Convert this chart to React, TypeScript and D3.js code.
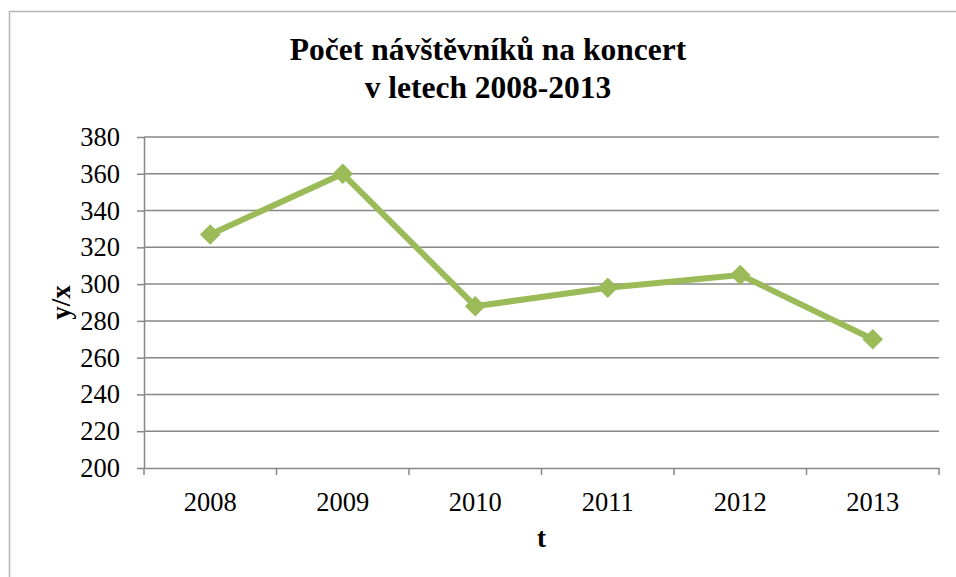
import * as d3 from "d3";
import { useEffect, useRef } from "react";

const years = ["2008", "2009", "2010", "2011", "2012", "2013"];
const visitors = [327, 360, 288, 298, 305, 270];
const yTicks = [200, 220, 240, 260, 280, 300, 320, 340, 360, 380];
const titleLines = ["Počet návštěvníků na koncert", "v letech 2008-2013"];

const App = () => {
  const svgRef = useRef<SVGSVGElement | null>(null);

  useEffect(() => {
    const svg = d3.select(svgRef.current);
    svg.selectAll("*").remove();

    const width = 956;
    const height = 577;
    const margin = { top: 137, right: 17, bottom: 109, left: 144 };
    const font = "'Liberation Serif', 'Times New Roman', serif";
    const gridColor = "#878787";
    const lineColor = "#9bbb59";

    // outer frame (runs off the right and bottom)
    svg
      .append("rect")
      .attr("x", 9.5)
      .attr("y", 11.5)
      .attr("width", width + 20)
      .attr("height", height + 20)
      .attr("fill", "white")
      .attr("stroke", "#b5b5b5")
      .attr("stroke-width", 1.5);

    // title
    svg
      .append("text")
      .attr("x", 488)
      .attr("y", 60)
      .attr("text-anchor", "middle")
      .attr("font-family", font)
      .attr("font-weight", "bold")
      .attr("font-size", 31.5)
      .selectAll("tspan")
      .data(titleLines)
      .join("tspan")
      .attr("x", 488)
      .attr("dy", (d, i) => (i === 0 ? 0 : 38))
      .text((d) => d);

    const x = d3
      .scaleBand()
      .domain(years)
      .range([margin.left, width - margin.right]);
    const y = d3
      .scaleLinear()
      .domain([200, 380])
      .range([height - margin.bottom, margin.top]);

    const x0 = margin.left;
    const x1 = width - margin.right;
    const yBottom = height - margin.bottom;

    // horizontal gridlines
    svg
      .append("g")
      .selectAll("line")
      .data(yTicks.slice(1))
      .join("line")
      .attr("x1", x0)
      .attr("x2", x1)
      .attr("y1", (d) => y(d))
      .attr("y2", (d) => y(d))
      .attr("stroke", gridColor)
      .attr("stroke-width", 1.5);

    // y axis
    const yAxis = svg
      .append("g")
      .attr("transform", `translate(${x0},0)`)
      .call(d3.axisLeft(y).tickValues(yTicks).tickSize(7).tickPadding(17).tickSizeOuter(0));
    yAxis.select(".domain").attr("stroke", gridColor).attr("stroke-width", 1.5);
    yAxis.selectAll(".tick line").attr("stroke", gridColor).attr("stroke-width", 1.5);
    yAxis
      .selectAll(".tick text")
      .attr("font-family", font)
      .attr("font-size", 26.5)
      .attr("fill", "black");

    // x axis
    const xAxis = svg
      .append("g")
      .attr("transform", `translate(0,${yBottom})`)
      .call(d3.axisBottom(x).tickSize(0).tickPadding(24));
    xAxis.select(".domain").attr("stroke", gridColor).attr("stroke-width", 1.5);
    xAxis
      .selectAll(".tick text")
      .attr("font-family", font)
      .attr("font-size", 26.5)
      .attr("fill", "black");

    // tick marks on category boundaries
    const bounds = years.map((d) => x(d) as number).concat([x1]);
    svg
      .append("g")
      .selectAll("line")
      .data(bounds)
      .join("line")
      .attr("x1", (d) => d)
      .attr("x2", (d) => d)
      .attr("y1", yBottom)
      .attr("y2", yBottom + 7)
      .attr("stroke", gridColor)
      .attr("stroke-width", 1.5);

    // axis titles
    svg
      .append("text")
      .attr("transform", `translate(70,${(margin.top + yBottom) / 2}) rotate(-90)`)
      .attr("text-anchor", "middle")
      .attr("font-family", font)
      .attr("font-weight", "bold")
      .attr("font-size", 27)
      .text("y/x");

    svg
      .append("text")
      .attr("x", (x0 + x1) / 2)
      .attr("y", 547)
      .attr("text-anchor", "middle")
      .attr("font-family", font)
      .attr("font-weight", "bold")
      .attr("font-size", 27)
      .text("t");

    // series line
    const cx = (i: number) => (x(years[i]) as number) + x.bandwidth() / 2;
    const line = d3
      .line<number>()
      .x((d, i) => cx(i))
      .y((d) => y(d));

    svg
      .append("path")
      .datum(visitors)
      .attr("fill", "none")
      .attr("stroke", lineColor)
      .attr("stroke-width", 6)
      .attr("stroke-linejoin", "round")
      .attr("d", line);

    // diamond markers
    const diamond = d3.symbol().type(d3.symbolDiamond2).size(270);
    svg
      .append("g")
      .selectAll("path")
      .data(visitors)
      .join("path")
      .attr("transform", (d, i) => `translate(${cx(i)},${y(d)})`)
      .attr("d", diamond)
      .attr("fill", lineColor);
  }, []);

  return (
    <svg
      ref={svgRef}
      width={956}
      height={577}
      style={{ position: "absolute", left: 0, top: 0 }}
    ></svg>
  );
};

export default App;
